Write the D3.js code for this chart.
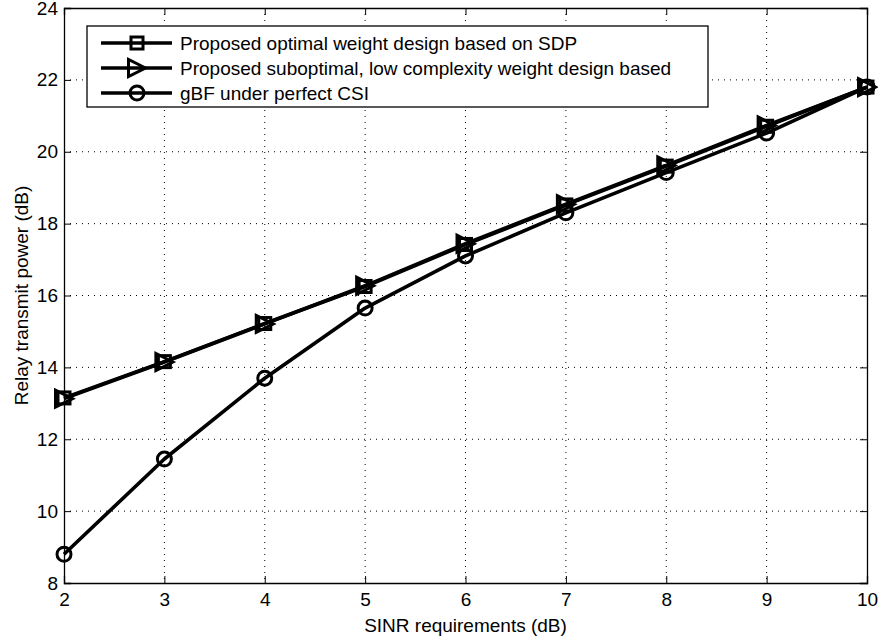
<!DOCTYPE html>
<html>
<head>
<meta charset="utf-8">
<script src="https://cdn.jsdelivr.net/npm/d3@7"></script>
<style>
  body { margin: 0; background: #fff; }
  text { font-family: "Liberation Sans", Arial, sans-serif; }
</style>
</head>
<body>
<svg id="chart" width="878" height="638"></svg>
<script>
// data
var sinr = [2, 3, 4, 5, 6, 7, 8, 9, 10];
var sdpPower = [13.15, 14.16, 15.22, 16.25, 17.42, 18.52, 19.6, 20.71, 21.8];
var subPower = [13.13, 14.15, 15.21, 16.27, 17.44, 18.54, 19.62, 20.73, 21.8];
var gbfPower = [8.8, 11.45, 13.7, 15.65, 17.1, 18.3, 19.42, 20.52, 21.8];
var xTicks = [2, 3, 4, 5, 6, 7, 8, 9, 10];
var yTicks = [8, 10, 12, 14, 16, 18, 20, 22, 24];
var legendLabels = [
  "Proposed optimal weight design based on SDP",
  "Proposed suboptimal, low complexity weight design based",
  "gBF under perfect CSI"
];

var fontSize = 19;
var svg = d3.select("#chart");
var margin = {left: 64, right: 11, top: 8, bottom: 55}; // plot box 64..867, 8..583
var W = 878 - margin.left - margin.right,
    H = 638 - margin.top - margin.bottom;

var g = svg.append("g").attr("transform", "translate(" + margin.left + "," + margin.top + ")");

var x = d3.scaleLinear().domain([2, 10]).range([0, W]);
var y = d3.scaleLinear().domain([8, 24]).range([H, 0]);

// dotted grid
g.append("g").selectAll("line").data(xTicks.slice(1, -1)).enter().append("line")
  .attr("x1", d => x(d)).attr("x2", d => x(d)).attr("y1", 0).attr("y2", H)
  .attr("stroke", "#000").attr("stroke-width", 1).attr("stroke-dasharray", "1,5");
g.append("g").selectAll("line").data(yTicks.slice(1, -1)).enter().append("line")
  .attr("y1", d => y(d)).attr("y2", d => y(d)).attr("x1", 0).attr("x2", W)
  .attr("stroke", "#000").attr("stroke-width", 1).attr("stroke-dasharray", "1,5");

// axes, ticks inward
var xAxis = g.append("g").attr("transform", "translate(0," + H + ")")
  .call(d3.axisBottom(x).tickValues(xTicks).tickSize(-7).tickPadding(10).tickFormat(d3.format("d")));
var xTop = g.append("g")
  .call(d3.axisTop(x).tickValues(xTicks).tickSize(-7).tickFormat(""));
var yAxis = g.append("g")
  .call(d3.axisLeft(y).tickValues(yTicks).tickSize(-7).tickPadding(6).tickFormat(d3.format("d")));
var yRight = g.append("g").attr("transform", "translate(" + W + ",0)")
  .call(d3.axisRight(y).tickValues(yTicks).tickSize(-7).tickFormat(""));

[xAxis, xTop, yAxis, yRight].forEach(function(a) {
  a.select(".domain").attr("stroke", "#000").attr("stroke-width", 1.3);
  a.selectAll(".tick line").attr("stroke", "#000");
  a.selectAll("text").attr("font-size", fontSize).attr("fill", "#000")
    .style("font-family", "Liberation Sans, Arial, sans-serif");
});

// axis titles
svg.append("text").attr("x", margin.left + W / 2).attr("y", 632)
  .attr("text-anchor", "middle").attr("font-size", fontSize).text("SINR requirements (dB)");
svg.append("text")
  .attr("transform", "translate(28," + (margin.top + H / 2) + ") rotate(-90)")
  .attr("text-anchor", "middle").attr("font-size", fontSize).text("Relay transmit power (dB)");

// markers
function square(sel, cx, cy) {
  sel.append("rect").attr("x", cx - 6).attr("y", cy - 6).attr("width", 12).attr("height", 12)
    .attr("fill", "none").attr("stroke", "#000").attr("stroke-width", 3);
}
function triangle(sel, cx, cy) {
  var s = 8.5;
  sel.append("path")
    .attr("d", "M" + (cx + s) + "," + cy + "L" + (cx - s) + "," + (cy - s) + "L" + (cx - s) + "," + (cy + s) + "Z")
    .attr("fill", "none").attr("stroke", "#000").attr("stroke-width", 3);
}
function circle(sel, cx, cy) {
  sel.append("circle").attr("cx", cx).attr("cy", cy).attr("r", 7)
    .attr("fill", "none").attr("stroke", "#000").attr("stroke-width", 3);
}

var series = [
  {vals: sdpPower, mark: square},
  {vals: subPower, mark: triangle},
  {vals: gbfPower, mark: circle}
];

var line = d3.line().x(d => x(d[0])).y(d => y(d[1]));

series.forEach(function(s) {
  var pts = sinr.map((v, i) => [v, s.vals[i]]);
  g.append("path").datum(pts).attr("d", line)
    .attr("fill", "none").attr("stroke", "#000").attr("stroke-width", 3.6)
    .attr("stroke-linejoin", "round");
  var mg = g.append("g");
  pts.forEach(function(p) { s.mark(mg, x(p[0]), y(p[1])); });
});

// legend
var lg = svg.append("g");
lg.append("rect").attr("x", 87).attr("y", 26).attr("width", 621).attr("height", 81)
  .attr("fill", "#fff").attr("stroke", "#000").attr("stroke-width", 1.3);
var rowY = [43, 68, 93];
series.forEach(function(s, i) {
  lg.append("line").attr("x1", 101).attr("x2", 172).attr("y1", rowY[i]).attr("y2", rowY[i])
    .attr("stroke", "#000").attr("stroke-width", 3.6);
  s.mark(lg, 137, rowY[i]);
  lg.append("text").attr("x", 180).attr("y", rowY[i]).attr("dy", "0.35em")
    .attr("font-size", fontSize).text(legendLabels[i]);
});
</script>
</body>
</html>
